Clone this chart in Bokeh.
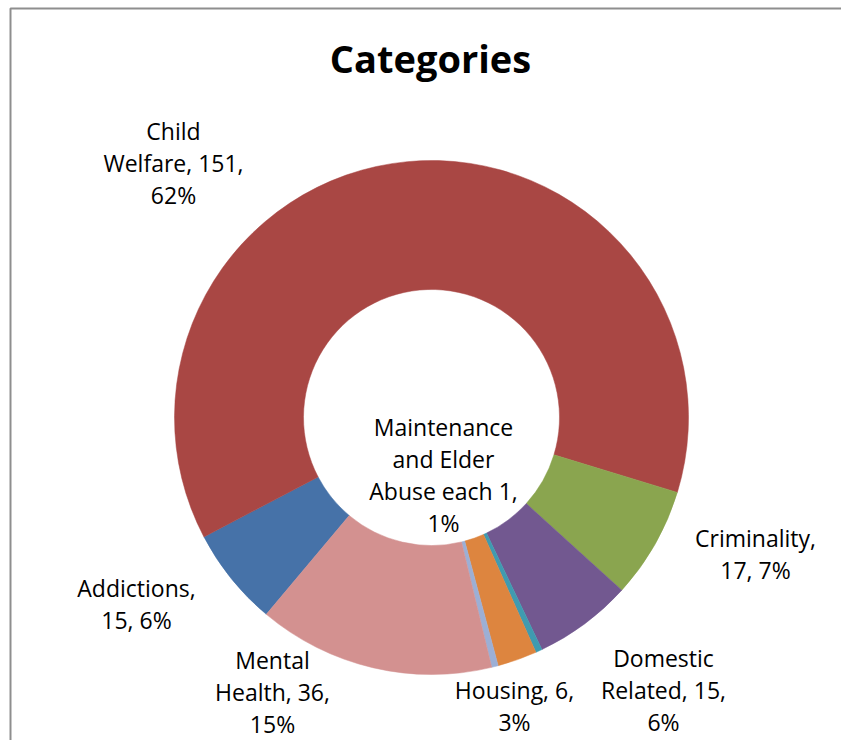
import numpy as np
from bokeh.plotting import figure
from bokeh.models import Range1d, ColumnDataSource
from bokeh.core.properties import value
from bokeh.embed import file_html
from bokeh.resources import INLINE

# ---------------- data ----------------
categories = ["Addictions", "Child Welfare", "Criminality", "Domestic Related",
              "Elder Abuse", "Housing", "Maintenance", "Mental Health"]
counts = [15, 151, 17, 15, 1, 6, 1, 36]
percents = ["6%", "62%", "7%", "6%", "1%", "3%", "1%", "15%"]

label_texts = [
    "Addictions,\n15, 6%",
    "Child\nWelfare, 151,\n62%",
    "Criminality,\n17, 7%",
    "Domestic\nRelated, 15,\n6%",
    "Housing, 6,\n3%",
    "Mental\nHealth, 36,\n15%",
    "Maintenance\nand Elder\nAbuse each 1,\n1%",
]
title_text = "Categories"

# ---------------- styles / layout ----------------
colors = ["#4672A8", "#A94744", "#8AA54F", "#725890",
          "#3F9BB0", "#DD853F", "#9CAFD5", "#D39190"]
W, H = 841, 740
ORIGIN = 0                   # page pixel where the canvas starts
CX, CY = 431, 417            # pie centre in page pixels
R_OUT, R_IN = 257, 128
FIRST_SLICE_DEG = 220        # Excel "angle of first slice", clockwise from 12 o'clock
TITLE_BASELINE = 57
# label centres in page pixels
label_px = [(136, 603), (173, 162), (755, 553), (663, 689),
            (514, 705), (272, 691), (443, 474)]

# ---------------- geometry from data ----------------
vals = np.array(counts, dtype=float)
frac = vals / vals.sum()
cum_end = np.cumsum(frac) * 2 * np.pi
cum_start = cum_end - frac * 2 * np.pi
off = np.deg2rad(FIRST_SLICE_DEG)
start_angle = np.pi / 2 - off - cum_start
end_angle = np.pi / 2 - off - cum_end

src = ColumnDataSource(dict(cat=categories, start=start_angle, end=end_angle,
                            color=colors))

p = figure(width=W, height=H, output_backend="svg", toolbar_location=None,
           x_range=Range1d(ORIGIN - CX, ORIGIN + W - CX),
           y_range=Range1d(CY - (ORIGIN + H), CY - ORIGIN),
           min_border=0, min_border_left=0, min_border_right=0,
           min_border_top=0, min_border_bottom=0)
p.axis.visible = False
p.grid.visible = False
p.outline_line_color = None
p.background_fill_color = "white"
p.border_fill_color = "white"

p.annular_wedge(x=0, y=0, inner_radius=R_IN, outer_radius=R_OUT,
                start_angle="start", end_angle="end", direction="clock",
                fill_color="color", line_color="color", line_width=0.5,
                source=src)

# chart-area border (left and top edges visible in the reference)
p.line(x=[10 - CX, 10 - CX, 841 - CX], y=[CY - 740, CY - 8, CY - 8],
       line_color="#8E8E8E", line_width=2)

# title
p.text(x=[430 - CX], y=[CY - TITLE_BASELINE], text=[title_text],
       text_font=value("Open Sans"), text_font_style="bold",
       text_font_size="38px", text_align="center",
       text_baseline="alphabetic", text_color="black")

# data labels
lx = [px - CX for px, py in label_px]
ly = [CY - py for px, py in label_px]
p.text(x=lx, y=ly, text=label_texts,
       text_font=value("Open Sans"), text_font_size="23px",
       text_align="center", text_baseline="middle",
       text_line_height=1.0, text_color="black")

open("out.html", "w").write(file_html(p, INLINE))
